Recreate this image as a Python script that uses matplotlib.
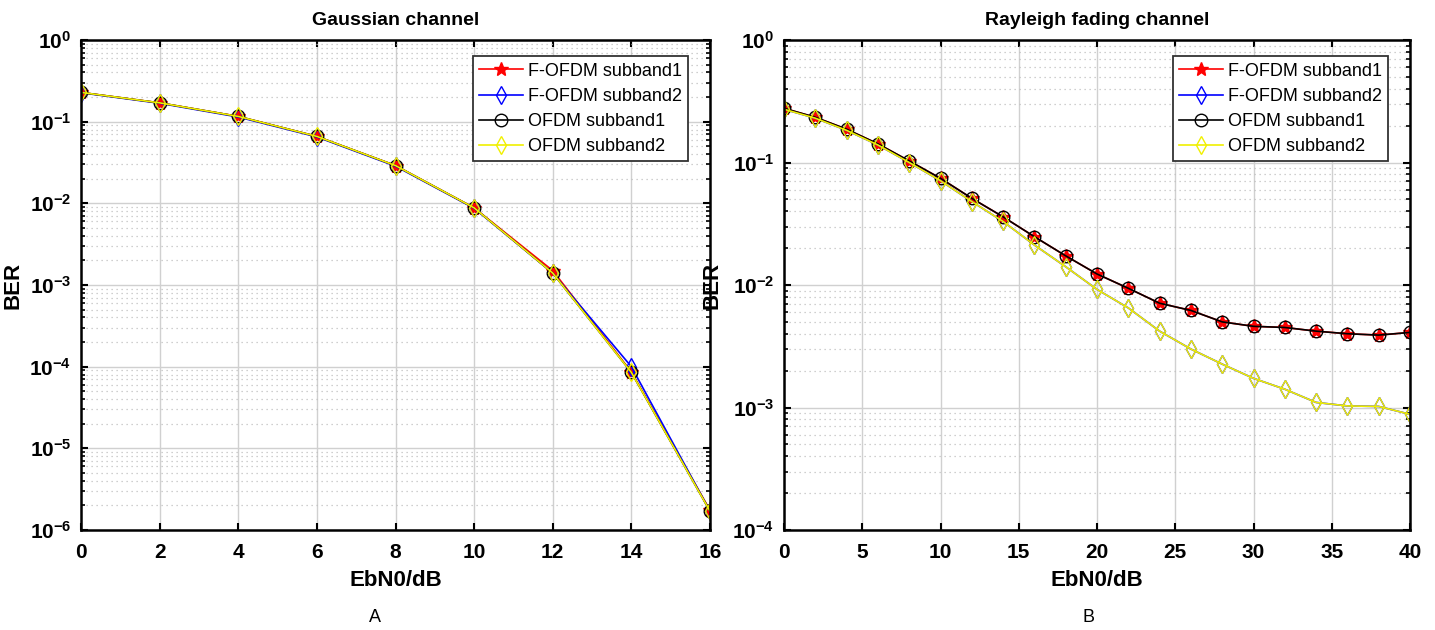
from matplotlib import pyplot as plt
from matplotlib.ticker import LogLocator, NullFormatter
import numpy as np

# Gaussian channel data
ebn0_a = [0, 2, 4, 6, 8, 10, 12, 14, 16]
fofdm1_a = [0.228, 0.170, 0.116, 0.066, 0.029, 0.0088, 0.0015, 8.6e-5, 1.75e-6]
fofdm2_a = [0.226, 0.168, 0.114, 0.065, 0.0285, 0.0087, 0.0014, 1.0e-4, 1.7e-6]
ofdm1_a = [0.228, 0.170, 0.116, 0.066, 0.029, 0.0088, 0.0014, 8.5e-5, 1.7e-6]
ofdm2_a = [0.228, 0.170, 0.116, 0.066, 0.029, 0.0088, 0.0014, 8.5e-5, 1.7e-6]

# Rayleigh fading channel data
ebn0_b = [0, 2, 4, 6, 8, 10, 12, 14, 16, 18, 20, 22, 24, 26, 28, 30, 32, 34, 36, 38, 40]
fofdm1_b = [0.277, 0.234, 0.187, 0.142, 0.103, 0.0743, 0.051, 0.036, 0.0248, 0.0173,
            0.0123, 0.0094, 0.0071, 0.0062, 0.0050, 0.0046, 0.0045, 0.0042, 0.0040,
            0.0039, 0.0041]
fofdm2_b = [0.272, 0.230, 0.183, 0.139, 0.100, 0.071, 0.048, 0.033, 0.0212, 0.0141,
            0.0092, 0.0065, 0.0042, 0.0030, 0.00226, 0.00173, 0.00141, 0.0011,
            0.00103, 0.00102, 0.00088]
ofdm1_b = fofdm1_b
ofdm2_b = fofdm2_b

labels = ['F-OFDM subband1', 'F-OFDM subband2', 'OFDM subband1', 'OFDM subband2']

plt.rcParams['font.family'] = ['Liberation Sans Narrow', 'Liberation Sans', 'DejaVu Sans']
plt.rcParams['axes.unicode_minus'] = False
plt.rcParams['mathtext.default'] = 'bf'

fig = plt.figure(figsize=(14.35, 6.3), dpi=100)
ax1 = fig.add_axes([81/1435, 1-530/630, 629/1435, 490/630])
ax2 = fig.add_axes([784/1435, 1-530/630, 626/1435, 490/630])


def draw(ax, x, series, title, xlim, ylim, xticks):
    styles = [dict(color='red', marker='*', ms=10, mfc='red'),
              dict(color='blue', marker='d', ms=9, mfc='none'),
              dict(color='black', marker='o', ms=9, mfc='none'),
              dict(color='#f0f000', marker='d', ms=9, mfc='none')]
    for y, st, lab in zip(series, styles, labels):
        ax.semilogy(x, y, lw=1.2, label=lab, **st)
    ax.set_xlim(*xlim)
    ax.set_ylim(*ylim)
    ax.set_xticks(xticks)
    ax.yaxis.set_major_locator(LogLocator(base=10, numticks=20))
    ax.yaxis.set_minor_locator(LogLocator(base=10, subs=np.arange(2, 10), numticks=20))
    ax.yaxis.set_minor_formatter(NullFormatter())
    ax.grid(True, which='major', color='#d0d0d0', lw=1.0, ls='-')
    ax.grid(True, which='minor', axis='y', color='#c0c0c0', lw=0.9, ls=(0, (1, 3)))
    ax.tick_params(which='both', direction='in', top=True, right=True)
    ax.tick_params(which='major', length=5, labelsize=15, width=1.5)
    ax.tick_params(axis='x', which='major', pad=9)
    ax.tick_params(axis='y', which='major', pad=7)
    ax.tick_params(which='minor', length=3, width=1.2)
    for lab in ax.get_xticklabels() + ax.get_yticklabels():
        lab.set_fontweight('bold')
    for sp in ax.spines.values():
        sp.set_linewidth(1.8)
    ax.set_title(title, fontsize=14, fontweight='bold', pad=11)
    ax.set_xlabel('EbN0/dB', fontsize=16, fontweight='bold', labelpad=6)
    ax.set_ylabel('BER', fontsize=16, fontweight='bold')
    leg = ax.legend(loc='upper right', fontsize=13, fancybox=False, framealpha=1,
                    edgecolor='#333333', borderpad=0.35, handlelength=2.4,
                    handletextpad=0.3, labelspacing=0.45,
                    bbox_to_anchor=(0.98, 0.985))
    leg.get_frame().set_linewidth(1.3)


draw(ax1, ebn0_a, [fofdm1_a, fofdm2_a, ofdm1_a, ofdm2_a], 'Gaussian channel',
     (0, 16), (1e-6, 1), range(0, 17, 2))
draw(ax2, ebn0_b, [fofdm1_b, fofdm2_b, ofdm1_b, ofdm2_b], 'Rayleigh fading channel',
     (0, 40), (1e-4, 1), range(0, 41, 5))
ax1.yaxis.set_label_coords(-0.092, 0.5)
ax2.yaxis.set_label_coords(-0.098, 0.5)

fig.text(375/1435, 1-618/630, 'A', ha='center', va='center', fontsize=13)
fig.text(1088/1435, 1-618/630, 'B', ha='center', va='center', fontsize=13)

fig.savefig('out.png', dpi=100)
plt.close()
